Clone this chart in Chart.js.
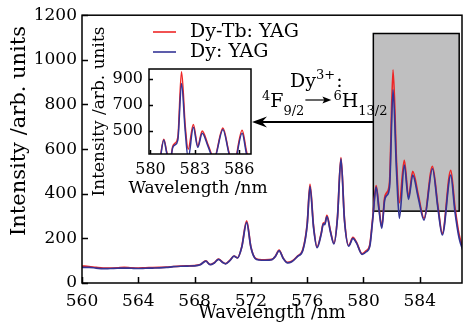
<!DOCTYPE html>
<html><head><meta charset="utf-8">
<script src="https://cdn.jsdelivr.net/npm/chart.js@4.4.0/dist/chart.umd.min.js"></script>
<style>
html,body{margin:0;padding:0;background:#fff;}
#wrap{position:relative;width:471px;height:333px;overflow:hidden;}
#wrap canvas{position:absolute;left:0;top:0;}
</style></head><body>
<div id="wrap"><canvas id="main" width="471" height="333"></canvas><canvas id="inset" width="471" height="333"></canvas></div>
<script>
// ---- data ----
const wavelength = [560.0,560.5,561.0,561.5,562.0,562.5,563.0,563.5,564.0,564.5,565.0,565.5,566.0,566.5,567.0,567.5,568.0,568.4,568.8,569.1,569.4,569.7,570.0,570.2,570.5,570.8,571.05,571.35,571.7,572.0,572.3,572.6,573.0,573.5,573.75,574.0,574.3,574.6,574.9,575.3,575.7,576.0,576.2,576.45,576.7,577.0,577.15,577.25,577.4,577.65,577.9,578.15,578.4,578.65,578.95,579.25,579.5,579.9,580.2,580.45,580.65,580.9,581.1,581.3,581.5,581.65,581.85,582.1,582.35,582.55,582.9,583.2,583.5,583.9,584.3,584.9,585.3,585.6,586.2,586.5,586.8,587.1];
const dyYAG   = [70,70,67,64,65,66,67,66,65,66,67,68,70,73,75,76,77,82,98,82,90,106,92,86,100,120,112,160,272,160,110,103,102,105,120,145,110,90,95,118,148,260,432,250,158,220,265,262,298,230,175,290,556,280,165,200,180,128,140,165,280,430,330,245,370,392,430,866,500,290,528,375,483,380,282,512,330,215,483,320,200,140];
const dyTbYAG = [76,74,70,67,67,68,70,68,67,68,69,70,71,74,76,77,78,83,99,83,91,107,93,87,101,121,113,162,278,162,112,105,104,106,121,147,111,92,97,120,152,265,442,256,162,224,270,267,303,234,178,294,562,285,168,204,183,131,145,172,288,436,338,252,380,405,450,955,540,360,550,385,500,392,290,523,340,222,505,340,215,150];
const seriesNames = ['Dy-Tb: YAG', 'Dy: YAG'];
const xTicksMain = [560,564,568,572,576,580,584];
const yTicksMain = [0,200,400,600,800,1000,1200];
const xTicksInset = [580,583,586];
const yTicksInset = [500,700,900];
const xTitle = 'Wavelength /nm';
const yTitle = 'Intensity /arb. units';
const zoomBox = [580.7, 586.8, 322, 1118]; // x0,x1,y0,y1 (data units)
const mainRange = [560, 587, 0, 1200];
const insetRange = [579.9, 586.8, 323, 977];

// ---- styles ----
const FF = "'DejaVu Serif', serif";
const RED = 'rgb(238,38,38)';
const BLUE = 'rgb(52,52,150)';

function makeDatasets(lw){
  return [
    {label: seriesNames[0], data: wavelength.map((x,i)=>({x, y: dyTbYAG[i]})), borderColor: RED, borderWidth: lw, pointRadius: 0, cubicInterpolationMode: 'monotone', order: 2, fill: false},
    {label: seriesNames[1], data: wavelength.map((x,i)=>({x, y: dyYAG[i]})), borderColor: BLUE, borderWidth: lw, pointRadius: 0, cubicInterpolationMode: 'monotone', order: 1, fill: false}
  ];
}
function setTicks(list){ return function(s){ s.ticks = list.map(v=>({value:v})); }; }
const plain = v => String(v);

const frameAndTicks = (tl)=>({
  id: 'frameTicks',
  afterDatasetsDraw(chart){
    const {ctx, chartArea:a, scales:{x, y}} = chart;
    ctx.save();
    ctx.strokeStyle = '#000'; ctx.lineWidth = 1.5;
    ctx.beginPath();
    x.ticks.forEach(t=>{ const p = Math.round(x.getPixelForValue(t.value))+0.5; ctx.moveTo(p, a.bottom); ctx.lineTo(p, a.bottom - tl); });
    y.ticks.forEach(t=>{ const p = Math.round(y.getPixelForValue(t.value))+0.5; ctx.moveTo(a.left, p); ctx.lineTo(a.left + tl, p); });
    ctx.stroke();
    ctx.strokeRect(a.left, a.top, a.right - a.left, a.bottom - a.top);
    ctx.restore();
  }
});

const mainDecor = {
  id: 'mainDecor',
  beforeDatasetsDraw(chart){
    const {ctx, scales:{x, y}} = chart;
    const x0 = x.getPixelForValue(zoomBox[0]), x1 = x.getPixelForValue(zoomBox[1]);
    const y0 = y.getPixelForValue(zoomBox[2]), y1 = y.getPixelForValue(zoomBox[3]);
    ctx.save();
    ctx.fillStyle = 'rgb(191,191,192)';
    ctx.fillRect(x0, y1, x1 - x0, y0 - y1);
    ctx.strokeStyle = '#000'; ctx.lineWidth = 1.5;
    ctx.strokeRect(x0, y1, x1 - x0, y0 - y1);
    ctx.restore();
  },
  afterDraw(chart){
    const {ctx, scales:{x, y}} = chart;
    ctx.save();
    // y title
    ctx.fillStyle = '#000';
    ctx.font = '21px ' + FF;
    ctx.textAlign = 'center'; ctx.textBaseline = 'middle';
    ctx.translate(20, 131); ctx.rotate(-Math.PI/2);
    ctx.fillText(yTitle, 0, 0);
    ctx.restore();

    // legend
    ctx.save();
    ctx.font = '19px ' + FF; ctx.textBaseline = 'middle'; ctx.textAlign = 'left'; ctx.fillStyle = '#000';
    [[RED, 32, seriesNames[0]], [BLUE, 52, seriesNames[1]]].forEach(([c, yy, t])=>{
      ctx.strokeStyle = c; ctx.lineWidth = 1.6;
      ctx.beginPath(); ctx.moveTo(153, yy); ctx.lineTo(176, yy); ctx.stroke();
      ctx.fillText(t, 190, yy);
    });
    ctx.restore();

    // annotation text
    ctx.save();
    ctx.fillStyle = '#000'; ctx.textBaseline = 'alphabetic'; ctx.textAlign = 'left';
    const big = '19px ' + FF, small = '13px ' + FF;
    let cx = 290;
    ctx.font = big; ctx.fillText('Dy', cx, 87); cx += ctx.measureText('Dy').width;
    ctx.font = small; ctx.fillText('3+', cx, 79); cx += ctx.measureText('3+').width;
    ctx.font = big; ctx.fillText(':', cx + 1, 87);
    cx = 262;
    ctx.font = small; ctx.fillText('4', cx, 100); cx += ctx.measureText('4').width;
    ctx.font = big; ctx.fillText('F', cx, 107); cx += ctx.measureText('F').width;
    ctx.font = small; ctx.fillText('9/2', cx, 115); cx += ctx.measureText('9/2').width;
    // small arrow
    ctx.strokeStyle = '#000'; ctx.lineWidth = 1.2;
    ctx.beginPath(); ctx.moveTo(cx + 1, 100); ctx.lineTo(cx + 22, 100); ctx.stroke();
    ctx.beginPath(); ctx.moveTo(cx + 27, 100); ctx.lineTo(cx + 18, 96.5); ctx.lineTo(cx + 20, 100); ctx.lineTo(cx + 18, 103.5); ctx.closePath(); ctx.fill();
    cx += 29;
    ctx.font = small; ctx.fillText('6', cx, 100); cx += ctx.measureText('6').width;
    ctx.font = big; ctx.fillText('H', cx, 107); cx += ctx.measureText('H').width;
    ctx.font = small; ctx.fillText('13/2', cx, 115);
    // big arrow from box to inset
    const bx = x.getPixelForValue(zoomBox[0]);
    ctx.lineWidth = 2;
    ctx.beginPath(); ctx.moveTo(bx, 122); ctx.lineTo(262, 122); ctx.stroke();
    ctx.beginPath(); ctx.moveTo(252, 122); ctx.lineTo(267, 116.5); ctx.lineTo(262, 122); ctx.lineTo(267, 127.5); ctx.closePath(); ctx.fill();
    ctx.restore();
  }
};

const tickFont = (s)=>({family: "'DejaVu Serif', serif", size: s});

new Chart(document.getElementById('main'), {
  type: 'line',
  data: {datasets: makeDatasets(1.7)},
  options: {
    responsive: false, animation: false, devicePixelRatio: 1,
    layout: {padding: {left: 0, right: 9, top: 15, bottom: 0}},
    plugins: {legend: {display: false}, tooltip: {enabled: false}},
    scales: {
      x: {type: 'linear', min: mainRange[0], max: mainRange[1],
          afterBuildTicks: setTicks(xTicksMain),
          ticks: {color: '#000', font: tickFont(17), padding: 8, maxRotation: 0, autoSkip: false, callback: plain},
          grid: {display: false, drawTicks: false}, border: {display: false},
          title: {display: true, text: xTitle, color: '#000', font: tickFont(18), padding: {top: 0, bottom: 9}},
          afterFit(s){ s.height = 50; }},
      y: {type: 'linear', min: mainRange[2], max: mainRange[3],
          afterBuildTicks: setTicks(yTicksMain),
          ticks: {color: '#000', font: tickFont(17), padding: 5, autoSkip: false, callback: plain},
          grid: {display: false, drawTicks: false}, border: {display: false},
          afterFit(s){ s.width = 82; }}
    }
  },
  plugins: [mainDecor, frameAndTicks(6)]
});

const insetDecor = {
  id: 'insetDecor',
  beforeDatasetsDraw(chart){
    const {ctx, chartArea:a} = chart;
    ctx.save(); ctx.fillStyle = '#fff'; ctx.fillRect(a.left, a.top, a.right - a.left, a.bottom - a.top); ctx.restore();
  },
  afterDraw(chart){
    const {ctx, chartArea:a} = chart;
    ctx.save();
    ctx.fillStyle = '#000'; ctx.font = '17px ' + FF;
    ctx.textAlign = 'center'; ctx.textBaseline = 'middle';
    ctx.fillText(xTitle, (a.left + a.right) / 2 - 2, 189);
    ctx.restore();
  }
};

new Chart(document.getElementById('inset'), {
  type: 'line',
  data: {datasets: makeDatasets(1.5)},
  options: {
    responsive: false, animation: false, devicePixelRatio: 1,
    layout: {padding: {left: 87, right: 220, top: 69, bottom: 134}},
    plugins: {legend: {display: false}, tooltip: {enabled: false}},
    scales: {
      x: {type: 'linear', min: insetRange[0], max: insetRange[1],
          afterBuildTicks: setTicks(xTicksInset),
          ticks: {color: '#000', font: tickFont(16), padding: 6, maxRotation: 0, autoSkip: false, callback: plain},
          grid: {display: false, drawTicks: false}, border: {display: false},
          afterFit(s){ s.height = 45; }},
      y: {type: 'linear', min: insetRange[2], max: insetRange[3],
          afterBuildTicks: setTicks(yTicksInset),
          ticks: {color: '#000', font: tickFont(16), padding: 6, autoSkip: false, callback: plain},
          grid: {display: false, drawTicks: false}, border: {display: false},
          title: {display: true, text: yTitle, color: '#000', font: tickFont(17), padding: {top: 2, bottom: 0}},
          afterFit(s){ s.width = 62; }}
    }
  },
  plugins: [insetDecor, frameAndTicks(4)]
});
</script>
</body></html>
